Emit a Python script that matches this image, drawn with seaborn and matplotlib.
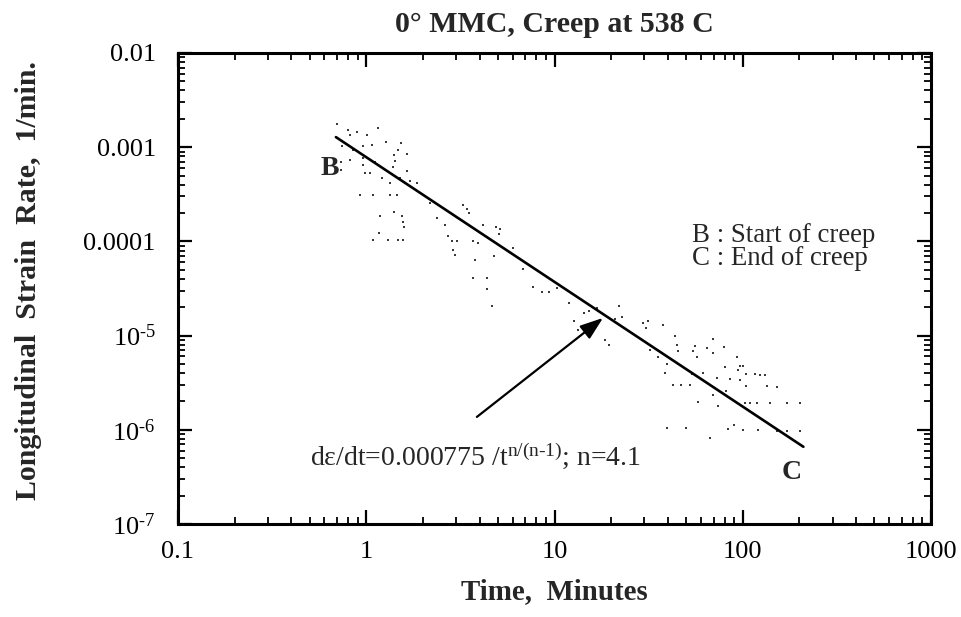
import matplotlib
matplotlib.use("Agg")
import matplotlib.pyplot as plt
import matplotlib.ticker as mticker
import pandas as pd
import seaborn as sns

# ---- data ----
time_min = [0.70, 0.80, 0.89, 1.01, 1.15, 0.82, 0.74, 0.85, 0.96, 1.07,
            1.27, 1.53, 1.47, 1.64, 1.40, 0.82, 0.96, 1.11, 1.42, 0.96,
            0.73, 1.39, 1.64, 0.98, 1.05, 1.21, 1.34, 1.51, 1.71, 1.86,
            0.93, 1.09, 1.34, 1.46, 1.18, 1.40, 1.55, 1.57, 1.59, 1.09,
            1.30, 1.47, 1.57, 3.26, 3.43, 2.18, 2.37, 2.62, 2.72, 2.85,
            3.03, 2.89, 2.96, 1.17, 0.73, 3.51, 4.17, 4.88, 5.13, 3.69,
            3.92, 5.07, 6.01, 3.78, 4.77, 6.80, 3.69, 4.38, 4.38, 4.65,
            7.68, 8.58, 9.34, 10.3, 11.9, 14.3, 15.2, 16.8, 22.0, 12.7,
            13.3, 20.9, 22.8, 29.5, 31.3, 30.6, 37.6, 43.6, 44.7, 45.2,
            18.5, 19.5, 32.1, 35.8, 35.4, 39.5, 45.2, 55.7, 54.3, 69.4,
            64.5, 69.4, 79.4, 57.0, 93.1, 96.5, 100, 80.3, 94.2, 38.6,
            53.7, 61.4, 104, 116, 123, 131, 72.9, 85.4, 96.5, 42.5,
            46.9, 52.4, 104, 134, 152, 81.3, 69.4, 57.7, 73.8, 103,
            109, 119, 139, 171, 201, 39.5, 49.9, 83.4, 89.7, 100,
            120, 152, 171, 201, 66.9]
strain_rate = [1.76e-3, 1.52e-3, 1.45e-3, 1.35e-3, 1.60e-3, 1.35e-3, 1.03e-3, 9.3e-4, 1.03e-3, 1.06e-3,
               1.14e-3, 1.11e-3, 9.3e-4, 8.5e-4, 8.3e-4, 7.3e-4, 7.7e-4, 7.0e-4, 7.1e-4, 6.5e-4,
               7.0e-4, 6.2e-4, 5.6e-4, 5.3e-4, 5.3e-4, 4.7e-4, 4.2e-4, 4.7e-4, 4.4e-4, 4.2e-4,
               3.1e-4, 3.1e-4, 3.1e-4, 3.1e-4, 1.86e-4, 2.05e-4, 1.86e-4, 1.61e-4, 1.42e-4, 1.03e-4,
               1.03e-4, 1.03e-4, 1.03e-4, 2.43e-4, 2.21e-4, 2.56e-4, 1.77e-4, 1.49e-4, 1.14e-4, 1.01e-4,
               1.01e-4, 8.1e-5, 7.2e-5, 1.23e-4, 5.7e-4, 2.00e-4, 1.49e-4, 1.42e-4, 1.35e-4, 1.01e-4,
               9.6e-5, 1.20e-4, 8.5e-5, 6.4e-5, 7.0e-5, 5.1e-5, 4.1e-5, 4.1e-5, 3.1e-5, 2.06e-5,
               3.3e-5, 2.9e-5, 2.9e-5, 3.2e-5, 2.2e-5, 1.74e-5, 1.82e-5, 1.96e-5, 2.06e-5, 1.43e-5,
               1.15e-5, 1.50e-5, 1.58e-5, 1.36e-5, 1.43e-5, 1.20e-5, 1.30e-5, 9.9e-6, 7.9e-6, 6.9e-6,
               9.0e-6, 7.9e-6, 7.0e-6, 6.9e-6, 5.9e-6, 5.0e-6, 5.0e-6, 7.7e-6, 6.9e-6, 9.2e-6,
               7.4e-6, 6.5e-6, 7.6e-6, 5.9e-6, 5.9e-6, 4.8e-6, 4.8e-6, 4.6e-6, 4.3e-6, 4.0e-6,
               3.9e-6, 4.0e-6, 3.9e-6, 3.9e-6, 3.8e-6, 3.8e-6, 3.55e-6, 3.46e-6, 3.4e-6, 3.0e-6,
               3.0e-6, 3.0e-6, 2.9e-6, 2.9e-6, 2.85e-6, 2.6e-6, 2.34e-6, 1.97e-6, 1.79e-6, 1.93e-6,
               1.93e-6, 1.93e-6, 1.93e-6, 1.93e-6, 1.93e-6, 1.04e-6, 1.04e-6, 1.02e-6, 1.12e-6, 9.9e-7,
               9.9e-7, 9.7e-7, 9.7e-7, 9.7e-7, 8.2e-7]

fit_time = [0.69, 210.0]
fit_rate = [1.28e-3, 6.6e-7]

x_ticks = [0.1, 1, 10, 100, 1000]
x_tick_labels = ["0.1", "1", "10", "100", "1000"]
y_ticks = [1e-7, 1e-6, 1e-5, 1e-4, 1e-3, 1e-2]
y_tick_labels = ["10$^{\\text{-7}}$", "10$^{\\text{-6}}$", "10$^{\\text{-5}}$",
                 "0.0001", "0.001", "0.01"]

title = "0° MMC, Creep at 538 C"
x_label = "Time,  Minutes"
y_label = "Longitudinal  Strain  Rate,  1/min."
formula = "dε/dt=0.000775 /t$^{\\text{n/(n-1)}}$; n=4.1"

# ---- style ----
sns.set_theme(style="ticks")
plt.rcParams["font.family"] = ["Liberation Serif", "DejaVu Serif"]
plt.rcParams["mathtext.fontset"] = "custom"
plt.rcParams["mathtext.rm"] = "Liberation Serif"
plt.rcParams["mathtext.it"] = "Liberation Serif:italic"
plt.rcParams["mathtext.bf"] = "Liberation Serif:bold"

fig = plt.figure(figsize=(9.61, 6.17), dpi=100)
ax = fig.add_axes([178 / 961, 1 - 524 / 617, 753 / 961, 471 / 617])
ax.set_xscale("log")
ax.set_yscale("log")

df = pd.DataFrame({"t": time_min, "rate": strain_rate})
sns.scatterplot(data=df, x="t", y="rate", ax=ax, s=4, color="#3a3a3a",
                marker="s", linewidth=0, legend=False)
sns.lineplot(x=fit_time, y=fit_rate, ax=ax, color="black", linewidth=1.9,
             legend=False)

ax.set_xlim(0.1, 1000)
ax.set_ylim(1e-7, 1e-2)

ax.xaxis.set_major_locator(mticker.FixedLocator(x_ticks))
ax.xaxis.set_major_formatter(mticker.FixedFormatter(x_tick_labels))
ax.yaxis.set_major_locator(mticker.FixedLocator(y_ticks))
ax.yaxis.set_major_formatter(mticker.FixedFormatter(y_tick_labels))
for axis in (ax.xaxis, ax.yaxis):
    axis.set_minor_locator(mticker.LogLocator(base=10, subs=range(2, 10), numticks=30))
    axis.set_minor_formatter(mticker.NullFormatter())

ax.tick_params(which="both", direction="in", top=True, right=True, colors="black")
ax.tick_params(which="major", length=10, width=1.6, labelsize=19)
ax.tick_params(which="minor", length=5, width=1.3)
ax.tick_params(axis="y", which="major", pad=16)
ax.tick_params(axis="x", which="major", pad=12)

for sp in ax.spines.values():
    sp.set_visible(True)
    sp.set_linewidth(2.2)
    sp.set_color("black")

ax.set_xlabel(x_label, fontsize=20.8, fontweight="bold")
ax.set_ylabel(y_label, fontsize=21.5, fontweight="bold")
ax.xaxis.set_label_coords(0.5, (524 - 592) / 471)
ax.xaxis.label.set_va("center")
ax.yaxis.set_label_coords((29 - 178) / 753, (524 - 281) / 471)
ax.yaxis.label.set_va("center")

fig.text(0.5 * (178 + 931) / 961, 1 - 24 / 617, title, ha="center", va="center",
         fontsize=21.5, fontweight="bold")

ax.text(0.64, 5.9e-4, "B", ha="center", va="center", fontsize=20, fontweight="bold")
ax.text(182, 3.56e-7, "C", ha="center", va="center", fontsize=20, fontweight="bold")
ax.text(53.7, 9.9e-5, "B : Start of creep", ha="left", va="baseline", fontsize=19.4)
ax.text(53.7, 5.6e-5, "C : End of creep", ha="left", va="baseline", fontsize=19.4)
ax.text(0.50, 4.2e-7, formula, ha="left", va="baseline", fontsize=20)

ax.annotate("", xy=(18.1, 1.54e-5), xytext=(3.87, 1.37e-6),
            arrowprops=dict(arrowstyle="-|>,head_length=0.7,head_width=0.25",
                            mutation_scale=20, color="black", lw=1.6,
                            shrinkA=0, shrinkB=0))

fig.savefig("out.png", dpi=100)
